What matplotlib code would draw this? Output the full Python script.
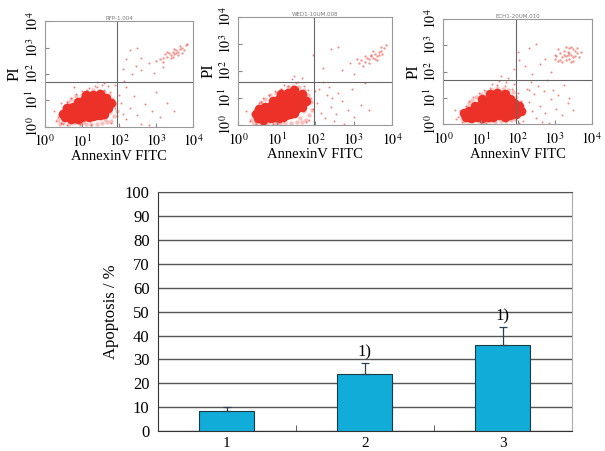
import numpy as np
import matplotlib
matplotlib.use("Agg")
import matplotlib.pyplot as plt

plt.rcParams["font.family"] = ["Liberation Serif", "DejaVu Serif"]
plt.rcParams["mathtext.fontset"] = "stix"

# ---- flow cytometry panels (values in log10 units) ----
panel_titles = ["RFP-1.004", "WED1-10UM.008", "ECH1-20UM.010"]
gate_x = [1.96, 1.97, 1.96]
gate_y = [1.69, 1.59, 1.67]

# dense core of each population
core1_x = [0.55, 0.7, 0.8, 0.9, 1.0, 1.1, 1.2, 1.3, 1.4, 1.5, 1.6,
           0.65, 0.8, 0.95, 1.1, 1.25, 1.4, 1.55, 1.7,
           0.75, 0.9, 1.05, 1.2, 1.35, 1.5, 1.65, 1.8,
           0.9, 1.05, 1.2, 1.35, 1.5, 1.65, 1.1, 1.3, 1.5, 0.5, 0.6]
core1_y = [0.35, 0.3, 0.35, 0.3, 0.35, 0.4, 0.35, 0.4, 0.45, 0.45, 0.5,
           0.55, 0.6, 0.55, 0.6, 0.55, 0.65, 0.6, 0.7,
           0.75, 0.8, 0.75, 0.8, 0.85, 0.8, 0.85, 0.9,
           0.95, 1.0, 1.0, 1.05, 1.0, 1.1, 1.2, 1.2, 1.25, 0.5, 0.7]
core2_x = [0.5, 0.65, 0.75, 0.85, 0.95, 1.05, 1.15, 1.25, 1.35, 1.45,
           0.6, 0.75, 0.9, 1.05, 1.2, 1.35, 1.5, 1.65,
           0.7, 0.85, 1.0, 1.15, 1.3, 1.45, 1.6, 1.75,
           0.9, 1.05, 1.2, 1.35, 1.5, 1.65, 1.1, 1.3, 1.45, 0.45, 0.55]
core2_y = [0.25, 0.2, 0.3, 0.25, 0.3, 0.25, 0.3, 0.35, 0.4, 0.45,
           0.45, 0.5, 0.45, 0.5, 0.55, 0.5, 0.6, 0.65,
           0.65, 0.7, 0.7, 0.75, 0.7, 0.8, 0.85, 0.9,
           0.9, 0.95, 1.0, 0.95, 1.05, 1.15, 1.15, 1.2, 1.3, 0.4, 0.6]
core3_x = [0.6, 0.75, 0.9, 1.05, 1.2, 1.35, 1.5, 1.65, 1.8, 1.95,
           0.7, 0.85, 1.0, 1.15, 1.3, 1.45, 1.6, 1.75, 1.9,
           0.85, 1.0, 1.15, 1.3, 1.45, 1.6, 1.75, 1.9, 2.05,
           1.05, 1.2, 1.35, 1.5, 1.65, 1.8, 1.25, 1.45, 1.65, 0.55, 2.1]
core3_y = [0.3, 0.25, 0.3, 0.25, 0.3, 0.3, 0.35, 0.3, 0.35, 0.4,
           0.5, 0.45, 0.55, 0.5, 0.55, 0.5, 0.55, 0.6, 0.55,
           0.7, 0.75, 0.7, 0.8, 0.75, 0.8, 0.75, 0.8, 0.7,
           0.95, 0.9, 1.0, 0.95, 1.0, 0.95, 1.15, 1.2, 1.15, 0.45, 0.5]

# fringe round the core
fringe1_x = [0.35, 0.42, 0.4, 0.48, 0.55, 0.62, 0.72, 0.85, 1.0, 1.15, 1.3,
             1.45, 1.6, 1.72, 1.82, 1.9, 1.95, 1.88, 1.78, 1.68, 1.55, 1.4,
             1.25, 1.1, 0.95, 0.8, 0.65, 0.5, 0.45, 1.75, 1.62, 0.7, 1.02]
fringe1_y = [0.25, 0.45, 0.12, 0.65, 0.8, 0.92, 1.05, 1.15, 1.22, 1.32, 1.38,
             1.35, 1.3, 1.22, 1.05, 0.85, 0.6, 0.4, 0.22, 0.18, 0.15, 0.12,
             0.1, 0.12, 0.1, 0.14, 0.12, 0.18, 0.55, 0.55, 0.3, 0.2, 0.18]
fringe2_x = [0.32, 0.38, 0.4, 0.45, 0.52, 0.6, 0.7, 0.82, 0.98, 1.12, 1.28,
             1.42, 1.58, 1.7, 1.8, 1.88, 1.92, 1.85, 1.75, 1.65, 1.52, 1.38,
             1.22, 1.08, 0.92, 0.78, 0.62, 0.48, 0.42, 1.72, 1.6, 0.68, 1.0]
fringe2_y = [0.2, 0.4, 0.08, 0.6, 0.72, 0.85, 0.98, 1.1, 1.2, 1.3, 1.4,
             1.45, 1.42, 1.3, 1.12, 0.85, 0.55, 0.35, 0.18, 0.12, 0.1, 0.08,
             0.06, 0.08, 0.05, 0.08, 0.06, 0.12, 0.5, 0.5, 0.25, 0.15, 0.12]
fringe3_x = [0.5, 0.57, 0.55, 0.63, 0.7, 0.77, 0.87, 1.0, 1.15, 1.3, 1.45,
             1.6, 1.75, 1.87, 1.97, 2.05, 2.1, 2.03, 1.93, 1.83, 1.7, 1.55,
             1.4, 1.25, 1.1, 0.95, 0.8, 0.65, 0.6, 1.9, 1.77, 0.85, 1.17]
fringe3_y = [0.25, 0.45, 0.12, 0.65, 0.8, 0.92, 1.05, 1.15, 1.22, 1.32, 1.38,
             1.35, 1.3, 1.22, 1.05, 0.85, 0.6, 0.4, 0.22, 0.18, 0.15, 0.12,
             0.1, 0.12, 0.1, 0.14, 0.12, 0.18, 0.55, 0.55, 0.3, 0.2, 0.18]

# sparse events
sparse1_x = [0.3, 0.4, 0.45, 0.5, 0.6, 0.35, 0.5, 0.7, 0.85, 1.0, 1.2, 1.4, 1.6,
             1.75, 1.85, 1.9, 1.95, 1.8, 1.7, 1.55, 1.35, 1.15, 0.95, 0.6, 0.45,
             2.05, 2.1, 2.2, 2.3, 2.5, 2.7, 2.9, 3.1, 2.4, 2.6, 2.2, 2.8, 3.3,
             3.5, 2.0, 1.9, 2.15, 2.35, 2.45, 2.6, 1.6, 1.4, 1.25, 0.25, 0.8,
             2.3, 2.5, 2.1, 2.8, 2.6, 2.95, 2.2, 3.0, 3.2]
sparse1_y = [0.2, 0.5, 0.15, 0.75, 0.95, 0.35, 0.1, 1.1, 1.25, 1.35, 1.45, 1.5,
             1.4, 1.3, 1.0, 0.7, 0.4, 0.15, 1.55, 1.6, 1.55, 1.4, 0.1, 0.05, 0.9,
             0.9, 0.5, 0.3, 0.7, 0.45, 0.85, 0.6, 0.35, 1.15, 0.1, 1.5, 0.05, 0.9,
             0.6, 1.2, 1.6, 1.75, 2.0, 2.3, 2.6, 1.65, 1.7, 0.08, 0.6, 1.5,
             2.9, 3.0, 2.2, 2.4, 2.15, 2.05, 2.55, 1.3, 2.25]
sparse2_x = [0.3, 0.35, 0.45, 0.5, 0.6, 0.4, 0.65, 0.8, 0.95, 1.1, 1.3, 1.5, 1.7,
             1.8, 1.9, 1.95, 1.85, 1.75, 1.55, 1.4, 1.2, 0.9, 0.7, 0.55,
             2.05, 2.15, 2.25, 2.4, 2.55, 2.7, 2.85, 3.0, 3.2, 2.3, 2.5, 2.1,
             2.75, 3.4, 2.0, 2.2, 2.35, 2.6, 1.65, 1.45, 0.2, 1.0,
             2.4, 2.6, 2.9, 2.2, 2.7, 3.0, 1.95, 2.45, 2.95, 3.3]
sparse2_y = [0.15, 0.45, 0.05, 0.65, 0.85, 0.3, 1.0, 1.1, 1.25, 1.35, 1.45, 1.55,
             1.45, 1.3, 1.0, 0.6, 0.2, 0.1, 1.6, 1.7, 1.5, 0.05, 0.05, 0.8,
             0.8, 0.45, 0.25, 0.65, 0.4, 0.9, 0.55, 0.3, 0.75, 1.1, 0.15, 1.35,
             0.05, 0.55, 1.25, 1.6, 1.4, 1.2, 1.75, 1.8, 0.5, 0.02,
             2.8, 2.9, 2.3, 2.1, 2.05, 1.9, 2.6, 1.0, 1.35, 1.55]
sparse3_x = [0.35, 0.45, 0.5, 0.6, 0.7, 0.4, 0.8, 0.95, 1.1, 1.25, 1.45, 1.65,
             1.85, 2.0, 2.1, 2.2, 2.15, 2.05, 1.9, 1.7, 1.5, 1.3, 1.0, 0.65,
             2.3, 2.4, 2.5, 2.6, 2.75, 2.9, 3.05, 3.2, 3.35, 2.45, 2.65, 2.3,
             2.85, 3.5, 2.25, 2.35, 2.55, 2.7, 1.75, 1.55, 0.3, 1.15,
             2.3, 2.5, 2.75, 2.2, 2.6, 2.9, 2.05, 2.95, 3.1, 3.25, 2.8, 3.4,
             1.9, 2.0, 3.0, 2.4]
sparse3_y = [0.2, 0.5, 0.1, 0.7, 0.9, 0.3, 1.05, 1.2, 1.3, 1.4, 1.5, 1.45,
             1.35, 1.2, 0.9, 0.5, 0.15, 0.05, 1.55, 1.6, 1.65, 1.55, 0.05, 0.02,
             0.85, 0.5, 0.25, 0.7, 0.45, 0.95, 0.6, 0.35, 0.8, 1.15, 0.1, 1.3,
             0.05, 0.55, 1.35, 1.6, 1.45, 1.25, 1.75, 1.85, 0.55, 0.05,
             2.9, 3.05, 2.5, 2.2, 2.3, 2.0, 2.45, 1.3, 1.1, 1.5, 1.7, 1.0,
             2.1, 2.75, 2.65, 1.9]

# double-positive population (upper right)
late1_x = [3.1, 3.2, 3.25, 3.3, 3.35, 3.4, 3.45, 3.5, 3.55, 3.6, 3.65, 3.7, 3.75,
           3.8, 3.4, 3.5, 3.6, 3.3, 3.55, 3.7, 3.2, 3.45, 3.65, 3.0, 3.85]
late1_y = [2.55, 2.6, 2.75, 2.65, 2.8, 2.7, 2.85, 2.75, 2.9, 2.85, 2.95, 3.0, 2.9,
           3.1, 2.6, 2.95, 2.7, 2.85, 2.8, 2.8, 2.45, 2.65, 3.05, 2.5, 3.15]
late2_x = [3.15, 3.2, 3.3, 3.35, 3.4, 3.45, 3.5, 3.55, 3.6, 3.65, 3.7, 3.75,
           3.8, 3.4, 3.5, 3.6, 3.3, 3.55, 3.7, 3.25, 3.45, 3.65, 3.1, 3.85]
late2_y = [2.3, 2.4, 2.35, 2.5, 2.45, 2.6, 2.5, 2.65, 2.55, 2.7, 2.75, 2.65,
           2.85, 2.3, 2.75, 2.4, 2.55, 2.45, 2.9, 2.2, 2.55, 2.6, 2.45, 2.95]
late3_x = [3.0, 3.1, 3.15, 3.2, 3.25, 3.3, 3.35, 3.4, 3.45, 3.5, 3.55, 3.6, 3.65,
           3.2, 3.3, 3.4, 3.5, 3.1, 3.35, 3.45, 3.55, 3.25, 3.4, 3.05, 3.6,
           3.15, 3.5, 3.3, 3.7, 3.45]
late3_y = [2.5, 2.4, 2.7, 2.55, 2.8, 2.6, 2.75, 2.5, 2.65, 2.85, 2.6, 2.7, 2.55,
           2.35, 2.45, 2.9, 2.4, 2.85, 2.65, 2.95, 2.8, 2.65, 2.7, 2.6, 2.9,
           2.45, 2.55, 2.95, 2.75, 2.35]

core_x = [core1_x, core2_x, core3_x]
core_y = [core1_y, core2_y, core3_y]
fringe_x = [fringe1_x, fringe2_x, fringe3_x]
fringe_y = [fringe1_y, fringe2_y, fringe3_y]
sparse_x = [sparse1_x, sparse2_x, sparse3_x]
sparse_y = [sparse1_y, sparse2_y, sparse3_y]
late_x = [late1_x, late2_x, late3_x]
late_y = [late1_y, late2_y, late3_y]

# ---- bar chart ----
groups = ["1", "2", "3"]
apoptosis = [8.5, 24.0, 36.0]
apoptosis_err = [1.5, 4.7, 7.5]
marks = ["", "1)", "1)"]

fig = plt.figure(figsize=(6.05, 4.51), dpi=100)
red = "#ec3228"
dec_labels = ["$10^{0}$", "$10^{1}$", "$10^{2}$", "$10^{3}$", "$10^{4}$"]
boxes = [[0.074, 0.719, 0.245, 0.234],
         [0.394, 0.723, 0.254, 0.239],
         [0.733, 0.724, 0.245, 0.234]]

for i, box in enumerate(boxes):
    ax = fig.add_axes(box)
    ax.set_xscale("log")
    ax.set_yscale("log")
    ax.set_xlim(1, 1e4)
    ax.set_ylim(1, 1e4)
    ax.scatter(10 ** np.array(fringe_x[i]), 10 ** np.array(fringe_y[i]), s=10,
               color=red, alpha=0.3, linewidths=0)
    ax.scatter(10 ** np.array(core_x[i]), 10 ** np.array(core_y[i]), s=48,
               color=red, alpha=1.0, linewidths=0)
    ax.scatter(10 ** np.array(sparse_x[i]), 10 ** np.array(sparse_y[i]), s=2,
               color=red, alpha=0.6, linewidths=0)
    ax.scatter(10 ** np.array(late_x[i]), 10 ** np.array(late_y[i]), s=3,
               color=red, alpha=0.5, linewidths=0)
    ax.axvline(10 ** gate_x[i], color="#666666", lw=0.8)
    ax.axhline(10 ** gate_y[i], color="#666666", lw=0.8)
    ax.set_xticks([1, 10, 100, 1000, 10000])
    ax.set_xticklabels(dec_labels, fontsize=10)
    ax.set_yticks([1, 10, 100, 1000, 10000])
    ax.set_yticklabels(dec_labels, fontsize=10, rotation=90, va="center")
    ax.tick_params(which="both", direction="in", color="#888888")
    ax.tick_params(which="major", length=3)
    ax.tick_params(axis="x", which="major", pad=5)
    ax.tick_params(axis="y", which="major", pad=3)
    ax.tick_params(which="minor", length=1.5)
    for sp in ax.spines.values():
        sp.set_color("#999999")
        sp.set_linewidth(0.8)
    ax.set_xlabel("AnnexinV FITC", fontsize=10.5, labelpad=0)
    ax.set_ylabel("PI", fontsize=12, labelpad=1)
    ax.set_title(panel_titles[i], fontsize=4, color="#777777", pad=1,
                 family="DejaVu Sans")

bx = fig.add_axes([0.261, 0.044, 0.684, 0.530])
pos = np.arange(len(groups))
bx.bar(pos, apoptosis, width=0.4, color="#12acd8", edgecolor="#1a3a48",
       linewidth=0.8, zorder=3)
bx.errorbar(pos, apoptosis, yerr=[np.zeros(3), apoptosis_err], fmt="none",
            ecolor="#2a4050", elinewidth=0.9, capsize=3, capthick=0.9, zorder=4)
for p, v, e, m in zip(pos, apoptosis, apoptosis_err, marks):
    if m:
        bx.text(p, v + e + 1, m, ha="center", va="bottom", fontsize=12)
bx.set_xlim(-0.5, 2.5)
bx.set_ylim(0, 100)
bx.set_yticks(np.arange(0, 101, 10))
bx.yaxis.grid(True, color="#555555", lw=1)
bx.set_axisbelow(True)
bx.set_xticks(pos)
bx.set_xticklabels(groups, fontsize=11)
bx.set_xticks([0.5, 1.5], minor=True)
bx.tick_params(axis="x", which="major", length=0, pad=4)
bx.tick_params(axis="x", which="minor", direction="in", length=4, color="#444444")
bx.tick_params(axis="y", length=0, labelsize=12, pad=6)
bx.spines["top"].set_color("#555555")
bx.spines["right"].set_color("#aaaaaa")
bx.spines["left"].set_color("#333333")
bx.spines["bottom"].set_color("#333333")
bx.set_ylabel("Apoptosis / %", fontsize=12, labelpad=4)

fig.savefig("out.png", dpi=100)
